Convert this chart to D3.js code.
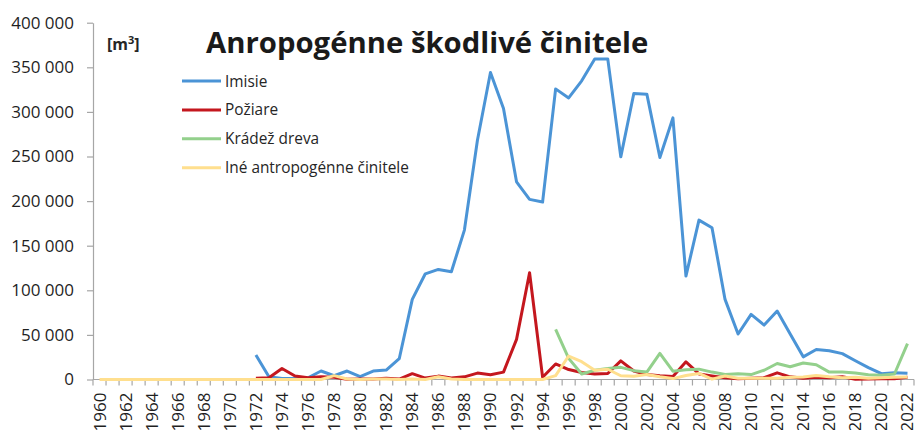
<!DOCTYPE html>
<html>
<head>
<meta charset="utf-8">
<script src="https://cdn.jsdelivr.net/npm/d3@7"></script>
<style>
  body { margin: 0; background: #fff; }
  svg { display: block; font-family: "Open Sans", sans-serif; }
</style>
</head>
<body>
<div id="chart"></div>
<script>
// roky 1960 - 2022
const years = d3.range(1960, 2023);

// hodnoty v m3, null = bez údaja
const imisie = [
  // 1960-1971
  null, null, null, null, null, null, null, null, null, null, null, null,
  27400, 3000, 1000, 1000, 2000, 9500, 4200, 9500, 3300, 9500, // 1972-1981
  10600, 23300, 89800, 118500, 123400, 120800, 167500, 268300, 344200, 303800, // 1982-1991
  221600, 201900, 198900, 325800, 315700, 334800, 359400, 359400, 249600, 320600, // 1992-2001
  319900, 248900, 293300, 115900, 178700, 170100, 89800, 51000, 73000, 61000, // 2002-2011
  76700, 51000, 25400, 33600, 32300, 29000, 21000, 13300, 6500, 7600, 7000 // 2012-2022
];
const poziare = [
  null, null, null, null, null, null, null, null, null, null, null, null,
  1300, 2000, 12300, 3900, 2000, 3000, 2500, 200, 500, 500, // 1972-1981
  1300, 500, 6500, 1600, 3800, 1800, 3000, 7200, 5300, 8300, // 1982-1991
  45000, 119700, 2600, 17400, 11200, 7800, 6200, 6700, 20900, 9500, // 1992-2001
  5500, 4200, 3300, 19800, 6200, 4000, 2000, 900, 1300, 2000, // 2002-2011
  7500, 3000, 1300, 2400, 2000, 3000, 300, 500, 900, 900, 2400 // 2012-2022
];
const kradez = [
  null, null, null, null, null, null, null, null, null, null, null, null,
  null, null, null, null, null, null, null, null, null, null,
  null, null, null, null, null, null, null, null, null, null,
  null, null, null, 56200, 23700, 6200, 10400, 12300, 13600, 9900, // 1992-2001
  8300, 29300, 9300, 10800, 11600, 8300, 5600, 6500, 5500, 10400, // 2002-2011
  17900, 14300, 18500, 16600, 8300, 8300, 7200, 5300, 4700, 6200, 40300 // 2012-2022
];
const ine = [
  0, 0, 0, 0, 0, 0, 0, 0, 0, 0, 0, 0,
  0, 0, 0, 0, 0, 0, 4300, 500, 0, 500, // 1972-1981
  500, 0, 500, 0, 3000, 500, 0, 0, 0, 0, // 1982-1991
  0, 0, 0, 4400, 26300, 20000, 10500, 11500, 4200, 3700, // 1992-2001
  5700, 3000, 1000, 4500, 6800, 400, 3900, 1300, 1500, 1300, // 2002-2011
  1500, 2400, 2700, 4500, 3000, 2000, 2400, 1500, 2000, 2400, 2900 // 2012-2022
];

const seriesNames = ["Imisie", "Požiare", "Krádež dreva", "Iné antropogénne činitele"];
const seriesValues = [imisie, poziare, kradez, ine];
const colors = ["#4b94d6", "#c4171e", "#93d08c", "#ffdf8e"];
const yTicks = [0, 50000, 100000, 150000, 200000, 250000, 300000, 350000, 400000];

const width = 917;
const height = 430;

const svg = d3.select("#chart")
  .append("svg")
  .attr("width", width)
  .attr("height", height);

const x = d3.scaleBand()
  .domain(years)
  .range([93, 914]);

const y = d3.scaleLinear()
  .domain([0, 400000])
  .range([379.5, 22.7]);

const loc = d3.formatLocale({ decimal: ",", thousands: " ", grouping: [3], currency: ["", ""] });
const fmt = loc.format(",d");

// os Y
const yAxis = svg.append("g")
  .attr("transform", "translate(93,0)")
  .call(d3.axisLeft(y).tickValues(yTicks).tickFormat(fmt).tickSize(6).tickSizeOuter(0));
yAxis.select(".domain").attr("stroke", "#a6a6a6").attr("stroke-width", 1.2);
yAxis.selectAll(".tick line").attr("stroke", "#a6a6a6").attr("stroke-width", 1.2);
yAxis.selectAll(".tick text")
  .attr("x", -19)
  .attr("font-size", "17px")
  .attr("font-family", "Open Sans, sans-serif")
  .attr("fill", "#1f1f1f");

// os X
svg.append("line")
  .attr("x1", 93).attr("x2", 914)
  .attr("y1", y(0)).attr("y2", y(0))
  .attr("stroke", "#a6a6a6")
  .attr("stroke-width", 1.2);

svg.selectAll(".xtick")
  .data(years.concat([2023]))
  .enter()
  .append("line")
  .attr("class", "xtick")
  .attr("x1", d => d === 2023 ? 914 : x(d))
  .attr("x2", d => d === 2023 ? 914 : x(d))
  .attr("y1", y(0))
  .attr("y2", y(0) + 6)
  .attr("stroke", "#a6a6a6")
  .attr("stroke-width", 1.2);

svg.selectAll(".xlabel")
  .data(years.filter(d => d % 2 === 0))
  .enter()
  .append("text")
  .attr("class", "xlabel")
  .attr("transform", d => `translate(${x(d) + x.bandwidth() / 2 + 6},${y(0) + 13}) rotate(-90)`)
  .attr("text-anchor", "end")
  .attr("font-size", "17px")
  .attr("fill", "#1f1f1f")
  .text(d => d);

// čiary
const line = d3.line()
  .defined(d => d != null)
  .x((d, i) => x(years[i]) + x.bandwidth() / 2)
  .y(d => y(d));

svg.selectAll(".series")
  .data(seriesValues)
  .enter()
  .append("path")
  .attr("class", "series")
  .attr("d", d => line(d))
  .attr("fill", "none")
  .attr("stroke", (d, i) => colors[i])
  .attr("stroke-width", 3)
  .attr("stroke-linejoin", "round");

// nadpis
svg.append("text")
  .attr("x", 206)
  .attr("y", 53)
  .attr("font-size", "29.3px")
  .attr("font-weight", "bold")
  .attr("fill", "#1a1a1a")
  .text("Anropogénne škodlivé činitele");

// jednotka
const unit = svg.append("text")
  .attr("x", 107)
  .attr("y", 50)
  .attr("font-size", "16px")
  .attr("font-weight", "bold")
  .attr("fill", "#262626");
unit.append("tspan").text("[m");
unit.append("tspan").attr("font-size", "11px").attr("dy", -6).text("3");
unit.append("tspan").attr("dy", 6).text("]");

// legenda
const legend = svg.selectAll(".legend")
  .data(seriesNames)
  .enter()
  .append("g")
  .attr("class", "legend")
  .attr("transform", (d, i) => `translate(182,${81 + i * 28.9})`);

legend.append("line")
  .attr("x1", 0).attr("x2", 39)
  .attr("stroke", (d, i) => colors[i])
  .attr("stroke-width", 3);

legend.append("text")
  .attr("x", 43)
  .attr("y", 5.5)
  .attr("font-size", "15.4px")
  .attr("fill", "#262626")
  .text(d => d);
</script>
</body>
</html>
